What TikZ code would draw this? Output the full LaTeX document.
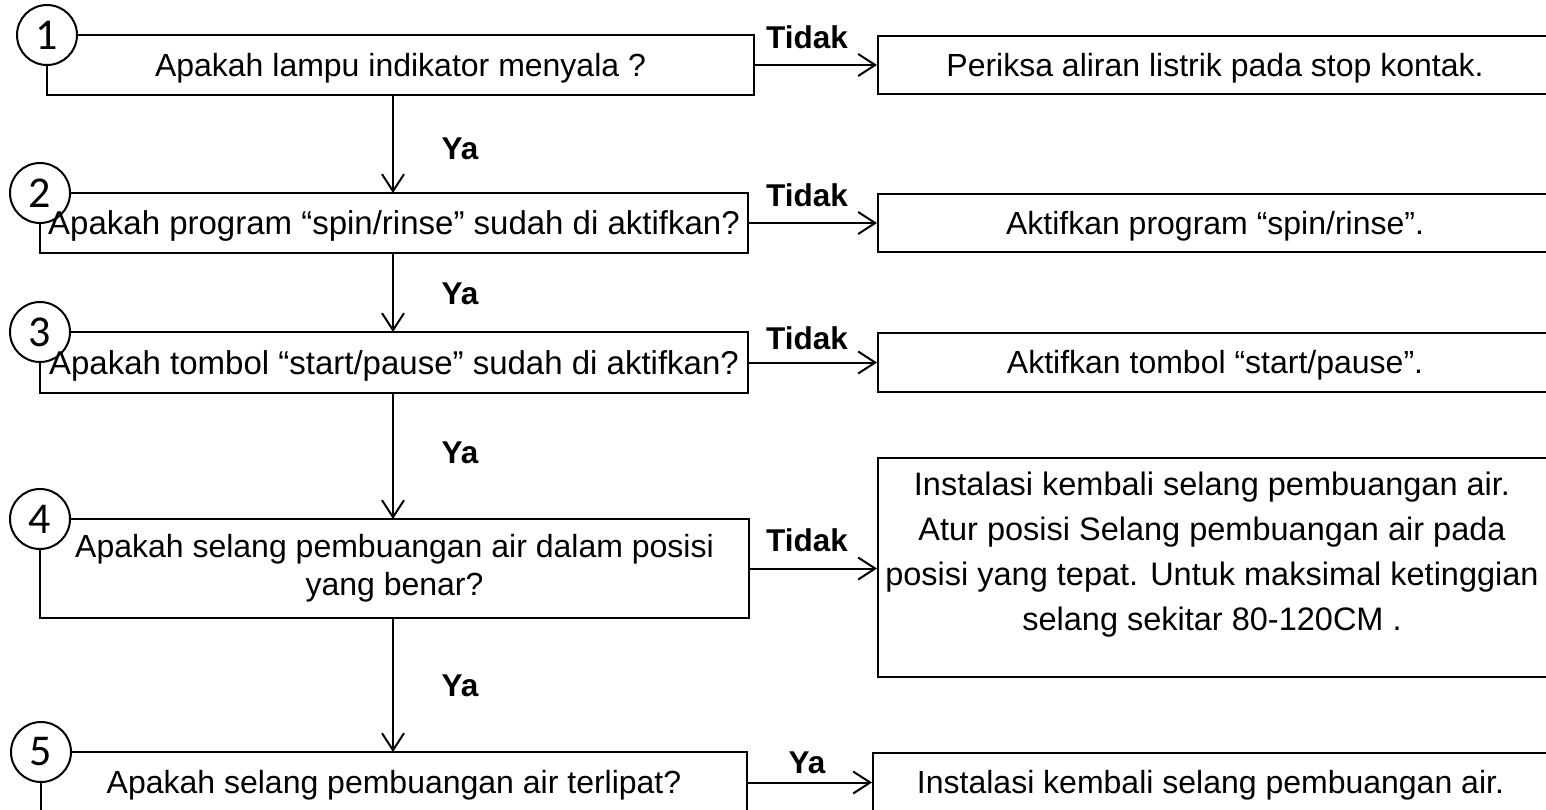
\documentclass[tikz,border=0pt]{standalone}
\usepackage{fontspec}
\setmainfont{Liberation Sans}
\newfontfamily\numfont{Carlito}
\usetikzlibrary{arrows.meta}
\begin{document}
\begin{tikzpicture}[x=1pt,y=-1pt,line width=2pt,
  box/.style={draw,line width=2pt,inner sep=0pt,font=\fontsize{32}{38}\selectfont,align=center},
  qbox/.style={box,draw=none},
  one/.style={text height=22.9pt,text depth=0pt},
  big/.style={font=\fontsize{33}{39}\selectfont,text height=23.6pt},
  txt/.style={inner sep=0pt,align=center},
  num/.style={circle,draw,line width=2pt,minimum size=60pt,inner sep=0pt,font=\numfont\fontsize{44}{44}\selectfont},
  lab/.style={inner sep=0pt,font=\bfseries\fontsize{31.5}{36}\selectfont,text height=22.5pt,text depth=0pt},
  arr/.style={-{Straight Barb[length=17pt,width=22pt]},line width=2pt},
  outline/.style={line width=2pt,line join=miter}]
\useasboundingbox (0,0) rectangle (1546,809);
\clip (0,0) rectangle (1546,809);
\fill[white] (0,0) rectangle (1546,809);
% left (question) boxes
\node[qbox,one,minimum width=705pt,minimum height=58pt] (b1) at (400.5,65) {Apakah lampu indikator menyala ?};
\node[qbox,one,big,minimum width=706pt,minimum height=58pt] (b2) at (394,223) {Apakah program “spin/rinse” sudah di aktifkan?};
\node[qbox,one,big,minimum width=706pt,minimum height=59pt] (b3) at (394,362.5) {Apakah tombol “start/pause” sudah di aktifkan?};
\node[qbox,minimum width=707pt,minimum height=97pt] (b4) at (394.5,568.5) {Apakah selang pembuangan air dalam posisi\\yang benar?};
\node[qbox,one,minimum width=704pt,minimum height=59pt] (b5) at (394,782.5) {Apakah selang pembuangan air terlipat?};
% number circles on the top-left corners
\node[num] (c1) at (b1.north west) {1};
\node[num] (c2) at (b2.north west) {2};
\node[num] (c3) at (b3.north west) {3};
\node[num] (c4) at (b4.north west) {4};
\node[num] (c5) at (b5.north west) {5};
% outlines of the question boxes, starting and ending at the circles
\draw[outline] (c1.east) -- (b1.north east) -- (b1.south east) -- (b1.south west) -- (c1.south);
\draw[outline] (c2.east) -- (b2.north east) -- (b2.south east) -- (b2.south west) -- (c2.south);
\draw[outline] (c3.east) -- (b3.north east) -- (b3.south east) -- (b3.south west) -- (c3.south);
\draw[outline] (c4.east) -- (b4.north east) -- (b4.south east) -- (b4.south west) -- (c4.south);
\draw[outline] (c5.east) -- (b5.north east) -- (b5.south east) -- (b5.south west) -- (c5.south);
% right boxes
\node[box,one,minimum width=674pt,minimum height=58pt] (r1) at (1215,65) {Periksa aliran listrik pada stop kontak.};
\node[box,one,minimum width=674pt,minimum height=58pt] (r2) at (1215,223) {Aktifkan program “spin/rinse”.};
\node[box,one,minimum width=674pt,minimum height=59pt] (r3) at (1215,362.5) {Aktifkan tombol “start/pause”.};
\node[box,minimum width=674pt,minimum height=219pt] (r4) at (1215,567.5) {};
\node[txt,font=\fontsize{32.5}{45}\selectfont] (r4t) at (1212,555) {Instalasi kembali selang pembuangan air.\\Atur posisi Selang pembuangan air pada\\posisi yang tepat. Untuk maksimal ketinggian\\selang sekitar 80-120CM .};
\node[box,one,minimum width=675pt,minimum height=59pt] (r5) at (1210.5,782.5) {Instalasi kembali selang pembuangan air.};
% horizontal arrows
\draw[arr] (b1.east) -- (r1.west);
\draw[arr] (b2.east) -- (r2.west);
\draw[arr] (b3.east) -- (r3.west);
\draw[arr] (b4.east) -- (b4.east -| r4.west);
\draw[arr] (b5.east) -- (r5.west);
% vertical arrows
\coordinate (xa) at (393,0);
\draw[arr] (b1.south -| xa) -- (b2.north -| xa);
\draw[arr] (b2.south -| xa) -- (b3.north -| xa);
\draw[arr] (b3.south -| xa) -- (b4.north -| xa);
\draw[arr] (b4.south -| xa) -- (b5.north -| xa);
% labels
\node[lab] (t1) at (807,37) {Tidak};
\node[lab] (t2) at (807,195) {Tidak};
\node[lab] (t3) at (807,338) {Tidak};
\node[lab] (t4) at (807,540) {Tidak};
\node[lab] (y5) at (807,762) {Ya};
\node[lab] (y1) at (460,148) {Ya};
\node[lab] (y2) at (460,293) {Ya};
\node[lab] (y3) at (460,452) {Ya};
\node[lab] (y4) at (460,685) {Ya};
\end{tikzpicture}
\end{document}
